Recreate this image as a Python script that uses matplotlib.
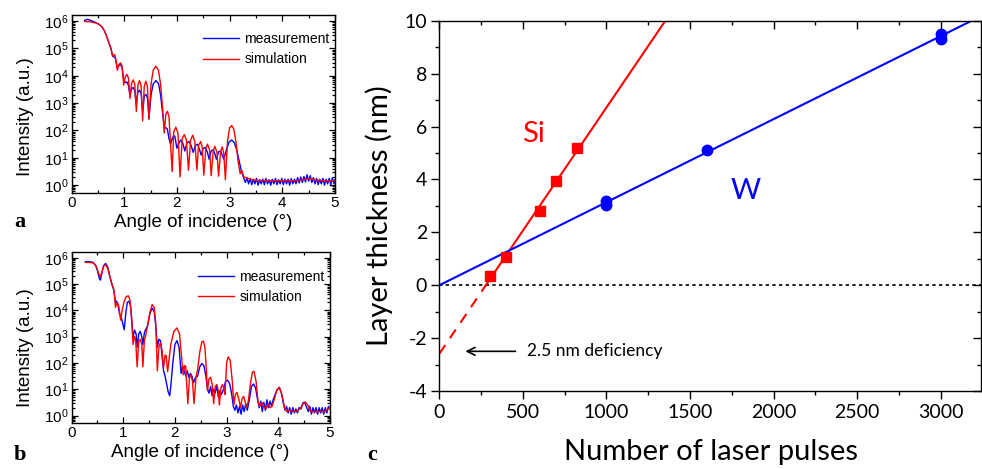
import numpy as np
import matplotlib
matplotlib.use("Agg")
import matplotlib.pyplot as plt
from matplotlib.ticker import LogLocator, MultipleLocator, NullFormatter, LogFormatterSciNotation

plt.rcParams['mathtext.default'] = 'regular'
plt.rcParams['axes.unicode_minus'] = False

# ---------------- data: panel a (angle in deg, log10 intensity) ----------------
a_sim = [(0.25, 5.98), (0.35, 5.97), (0.45, 5.93), (0.52, 5.88), (0.58, 5.78), (0.63, 5.62),
         (0.67, 5.42), (0.71, 5.2), (0.75, 4.98), (0.78, 4.72), (0.81, 4.78), (0.83, 4.72),
         (0.87, 4.2), (0.90, 4.4), (0.93, 4.47), (0.96, 4.35), (0.99, 3.66), (1.02, 3.95),
         (1.05, 4.05), (1.08, 3.92), (1.11, 3.17), (1.14, 3.72), (1.17, 3.85), (1.20, 3.7),
         (1.23, 2.7), (1.26, 3.65), (1.29, 3.82), (1.32, 3.65), (1.35, 2.35), (1.38, 3.6),
         (1.41, 3.8), (1.44, 3.62), (1.47, 2.4), (1.51, 3.7), (1.55, 4.2), (1.60, 4.35),
         (1.65, 4.2), (1.69, 3.7), (1.73, 2.8), (1.76, 1.9), (1.79, 2.6), (1.82, 2.7),
         (1.85, 2.5), (1.91, 0.5), (1.94, 1.95), (1.98, 2.12), (2.02, 1.9), (2.06, 0.3),
         (2.10, 1.7), (2.14, 1.85), (2.18, 1.65), (2.22, 0.55), (2.26, 1.65), (2.30, 1.83),
         (2.34, 1.6), (2.38, 0.55), (2.41, 1.45), (2.45, 1.6), (2.48, 1.4), (2.51, 0.37),
         (2.55, 1.35), (2.58, 1.5), (2.62, 1.3), (2.65, 0.35), (2.69, 1.25), (2.72, 1.42),
         (2.76, 1.2), (2.79, 0.33), (2.83, 1.25), (2.86, 1.4), (2.89, 1.15), (2.92, 0.2),
         (2.96, 1.6), (3.00, 2.1), (3.04, 2.18), (3.08, 2.05), (3.12, 1.6), (3.16, 0.9),
         (3.20, 0.42), (3.23, 0.55), (3.27, 0.3), (3.32, 0.28), (3.38, 0.22), (3.5, 0.18),
         (3.7, 0.17), (4.0, 0.16), (4.3, 0.17), (4.45, 0.22), (4.52, 0.25), (4.6, 0.2),
         (4.8, 0.16), (5.0, 0.16)]

a_meas = [(0.25, 6.02), (0.30, 6.06), (0.35, 6.03), (0.45, 5.95), (0.52, 5.88), (0.58, 5.78),
          (0.63, 5.62), (0.67, 5.42), (0.71, 5.2), (0.75, 4.98), (0.78, 4.72), (0.81, 4.68),
          (0.83, 4.65), (0.87, 4.3), (0.90, 4.38), (0.93, 4.4), (0.96, 4.3), (0.99, 3.85),
          (1.02, 3.75), (1.05, 3.77), (1.08, 3.65), (1.11, 3.3), (1.14, 3.52), (1.17, 3.57),
          (1.20, 3.45), (1.23, 2.95), (1.26, 3.4), (1.29, 3.47), (1.32, 3.35), (1.35, 2.7),
          (1.38, 3.25), (1.41, 3.32), (1.44, 3.2), (1.47, 2.45), (1.51, 3.3), (1.55, 3.7),
          (1.60, 3.82), (1.65, 3.72), (1.69, 3.3), (1.73, 2.6), (1.76, 2.1), (1.79, 2.1),
          (1.82, 2.05), (1.85, 1.7), (1.88, 1.5), (1.92, 1.75), (1.96, 1.8), (2.00, 1.35),
          (2.03, 1.5), (2.07, 1.65), (2.11, 1.55), (2.15, 1.25), (2.19, 1.55), (2.23, 1.6),
          (2.27, 1.45), (2.31, 1.2), (2.35, 1.45), (2.39, 1.5), (2.43, 1.3), (2.46, 1.1),
          (2.50, 1.35), (2.54, 1.38), (2.58, 1.2), (2.61, 0.95), (2.65, 1.25), (2.69, 1.3),
          (2.72, 1.15), (2.75, 0.95), (2.79, 1.22), (2.83, 1.25), (2.86, 1.1), (2.89, 0.95),
          (2.94, 1.3), (2.99, 1.58), (3.04, 1.65), (3.09, 1.55), (3.14, 1.25), (3.18, 0.9),
          (3.22, 0.55), (3.26, 0.3), (3.30, 0.1), (3.33, 0.28), (3.36, 0.05), (3.39, 0.25),
          (3.42, 0.02), (3.45, 0.22), (3.48, 0.05), (3.51, 0.25), (3.54, 0.0), (3.57, 0.2),
          (3.60, 0.05), (3.63, 0.22), (3.66, 0.02), (3.69, 0.25), (3.72, 0.05), (3.75, 0.2),
          (3.78, 0.0), (3.81, 0.22), (3.84, 0.05), (3.87, 0.25), (3.90, 0.02), (3.93, 0.2),
          (3.96, 0.05), (3.99, 0.25), (4.02, 0.02), (4.05, 0.22), (4.08, 0.05), (4.11, 0.22),
          (4.14, 0.0), (4.17, 0.25), (4.20, 0.05), (4.23, 0.22), (4.26, 0.05), (4.29, 0.28),
          (4.32, 0.08), (4.35, 0.3), (4.38, 0.1), (4.41, 0.32), (4.44, 0.12), (4.47, 0.38),
          (4.50, 0.15), (4.53, 0.35), (4.56, 0.1), (4.59, 0.28), (4.62, 0.05), (4.65, 0.25),
          (4.68, 0.02), (4.71, 0.22), (4.74, 0.05), (4.77, 0.25), (4.80, 0.0), (4.83, 0.22),
          (4.86, 0.05), (4.89, 0.25), (4.92, 0.02), (4.95, 0.28), (4.98, 0.05), (5.0, 0.2)]

# ---------------- data: panel b ----------------
b_sim = [(0.27, 5.82), (0.35, 5.82), (0.42, 5.8), (0.47, 5.7), (0.51, 5.5), (0.55, 5.27),
         (0.58, 5.4), (0.62, 5.68), (0.66, 5.73), (0.70, 5.6), (0.74, 5.3), (0.78, 5.0),
         (0.82, 4.8), (0.85, 4.12), (0.87, 4.25), (0.89, 4.3), (0.92, 4.1), (0.95, 3.63),
         (0.98, 4.0), (1.02, 4.35), (1.06, 4.52), (1.10, 4.55), (1.13, 4.4), (1.16, 3.8),
         (1.19, 2.7), (1.22, 3.0), (1.24, 2.9), (1.27, 1.85), (1.30, 2.8), (1.33, 2.9),
         (1.36, 2.7), (1.38, 1.85), (1.41, 2.85), (1.44, 3.1), (1.47, 3.4), (1.52, 3.95),
         (1.56, 4.22), (1.60, 4.1), (1.63, 3.5), (1.66, 1.7), (1.69, 2.6), (1.72, 2.77),
         (1.75, 2.5), (1.78, 1.8), (1.81, 2.3), (1.83, 2.28), (1.86, 1.67), (1.92, 2.7),
         (1.98, 3.2), (2.04, 3.33), (2.09, 3.1), (2.13, 2.2), (2.16, 1.55), (2.19, 1.9),
         (2.21, 1.85), (2.25, 0.45), (2.28, 1.4), (2.31, 1.55), (2.34, 1.3), (2.37, 0.45),
         (2.41, 1.5), (2.44, 1.75), (2.48, 2.4), (2.52, 2.8), (2.55, 2.83), (2.58, 2.6),
         (2.61, 1.7), (2.63, 0.95), (2.66, 1.4), (2.69, 1.45), (2.72, 1.2), (2.75, 0.45),
         (2.78, 1.1), (2.81, 1.18), (2.84, 0.95), (2.86, 0.4), (2.89, 1.05), (2.92, 1.18),
         (2.95, 1.0), (2.97, 0.8), (3.00, 2.0), (3.03, 2.23), (3.07, 2.1), (3.11, 1.3),
         (3.14, 0.4), (3.17, 0.8), (3.20, 0.88), (3.24, 0.6), (3.27, 0.3), (3.30, 0.65),
         (3.33, 0.73), (3.36, 0.5), (3.39, 0.3), (3.42, 0.55), (3.46, 1.2), (3.50, 1.65),
         (3.53, 1.68), (3.57, 1.3), (3.61, 0.5), (3.64, 0.35), (3.68, 0.5), (3.72, 0.35),
         (3.76, 0.25), (3.80, 0.42), (3.84, 0.3), (3.88, 0.35), (3.92, 0.6), (3.97, 0.95),
         (4.02, 1.08), (4.07, 0.8), (4.12, 0.3), (4.16, 0.15), (4.22, 0.2), (4.28, 0.15),
         (4.35, 0.17), (4.42, 0.25), (4.48, 0.45), (4.52, 0.52), (4.57, 0.4), (4.62, 0.15),
         (4.70, 0.14), (4.80, 0.15), (4.90, 0.14), (4.96, 0.25), (5.0, 0.3)]

b_meas = [(0.27, 5.85), (0.35, 5.85), (0.42, 5.82), (0.47, 5.7), (0.51, 5.45), (0.54, 5.2),
          (0.56, 5.15), (0.58, 5.35), (0.62, 5.7), (0.66, 5.78), (0.70, 5.65), (0.74, 5.3),
          (0.78, 5.0), (0.82, 4.75), (0.85, 4.3), (0.87, 4.35), (0.90, 4.2), (0.93, 3.85),
          (0.96, 3.75), (0.99, 3.5), (1.02, 3.26), (1.05, 3.9), (1.08, 4.3), (1.11, 4.35),
          (1.14, 4.2), (1.17, 3.5), (1.19, 2.95), (1.22, 3.25), (1.25, 3.1), (1.27, 2.6),
          (1.30, 3.1), (1.33, 3.2), (1.36, 3.0), (1.38, 2.7), (1.41, 3.15), (1.43, 3.25),
          (1.47, 3.4), (1.52, 3.9), (1.56, 4.08), (1.60, 3.95), (1.63, 3.4), (1.66, 2.6),
          (1.69, 2.9), (1.72, 2.85), (1.75, 2.3), (1.78, 1.7), (1.81, 1.5), (1.84, 1.2),
          (1.87, 0.9), (1.90, 0.75), (1.92, 1.1), (1.96, 2.0), (2.00, 2.7), (2.04, 2.85),
          (2.08, 2.6), (2.12, 1.6), (2.15, 1.9), (2.18, 1.7), (2.21, 1.5), (2.24, 1.7),
          (2.27, 1.45), (2.30, 1.6), (2.33, 1.5), (2.36, 1.25), (2.40, 1.45), (2.44, 1.5),
          (2.48, 1.85), (2.52, 1.98), (2.56, 1.9), (2.60, 1.5), (2.63, 1.0), (2.66, 0.85),
          (2.69, 1.1), (2.72, 0.75), (2.75, 1.0), (2.78, 0.85), (2.81, 1.15), (2.84, 0.7),
          (2.87, 0.95), (2.90, 0.8), (2.94, 1.0), (2.98, 1.3), (3.02, 1.35), (3.06, 1.2),
          (3.10, 0.8), (3.13, 0.35), (3.16, 0.2), (3.19, 0.4), (3.22, 0.1), (3.25, 0.35),
          (3.28, 0.05), (3.31, 0.4), (3.34, 0.15), (3.37, 0.45), (3.40, 0.2), (3.44, 0.6),
          (3.48, 1.1), (3.52, 1.2), (3.56, 1.05), (3.60, 0.6), (3.63, 0.3), (3.66, 0.55),
          (3.69, 0.15), (3.72, 0.5), (3.75, 0.2), (3.78, 0.6), (3.81, 0.3), (3.84, 0.55),
          (3.87, 0.35), (3.90, 0.6), (3.94, 0.8), (3.98, 1.0), (4.02, 1.05), (4.06, 0.85),
          (4.10, 0.45), (4.13, 0.2), (4.16, 0.35), (4.19, 0.1), (4.22, 0.3), (4.25, 0.05),
          (4.28, 0.3), (4.31, 0.1), (4.34, 0.25), (4.37, 0.1), (4.40, 0.3), (4.44, 0.25),
          (4.48, 0.5), (4.52, 0.45), (4.55, 0.3), (4.58, 0.15), (4.61, 0.35), (4.64, 0.05),
          (4.67, 0.3), (4.70, 0.1), (4.73, 0.3), (4.76, 0.05), (4.79, 0.3), (4.82, 0.1),
          (4.85, 0.3), (4.88, 0.05), (4.91, 0.3), (4.94, 0.1), (4.97, 0.35), (5.0, 0.25)]

# ---------------- data: panel c ----------------
si_pulses = [300, 400, 600, 700, 825]
si_thick = [0.35, 1.05, 2.8, 3.95, 5.2]
w_pulses = [1000, 1000, 1600, 3000, 3000]
w_thick = [3.05, 3.2, 5.1, 9.3, 9.5]
c_xticks = [0, 500, 1000, 1500, 2000, 2500, 3000]
c_yticks = [-4, -2, 0, 2, 4, 6, 8, 10]

BLUE = (0, 0, 1)
RED = (1, 0, 0)
SANS = 'Liberation Sans'
CAL = 'Lato'

fig = plt.figure(figsize=(9.82, 4.69), dpi=100)
W, H = 982.0, 469.0


def rect(l, t, r, b):
    return [l / W, 1 - b / H, (r - l) / W, (b - t) / H]


def xrr(ax_rect, meas, sim, ylab_xy, xlab_xy, leg_anchor):
    ax = fig.add_axes(ax_rect)
    m = np.array(meas)
    s = np.array(sim)
    ax.plot(m[:, 0], 10 ** m[:, 1], color=BLUE, lw=1.0, label='measurement')
    ax.plot(s[:, 0], 10 ** s[:, 1], color=RED, lw=1.0, label='simulation')
    ax.set_yscale('log')
    ax.set_xlim(0, 5)
    ax.set_ylim(0.52, 1.65e6)
    ax.yaxis.set_major_locator(LogLocator(base=10, numticks=10))
    ax.yaxis.set_minor_locator(LogLocator(base=10, subs=np.arange(2, 10), numticks=20))
    ax.yaxis.set_minor_formatter(NullFormatter())
    ax.yaxis.set_major_formatter(LogFormatterSciNotation())
    ax.xaxis.set_major_locator(MultipleLocator(1))
    ax.xaxis.set_minor_locator(MultipleLocator(0.5))
    ax.tick_params(which='both', direction='in', top=True, right=True, width=0.9,
                   labelsize=11, pad=2)
    ax.tick_params(which='major', length=4)
    ax.tick_params(which='minor', length=2.2)
    for lab in ax.get_xticklabels() + ax.get_yticklabels():
        lab.set_fontfamily(SANS)
    for sp in ax.spines.values():
        sp.set_linewidth(1.0)
    ax.set_ylabel('Intensity (a.u.)', fontsize=13.5, family=SANS)
    ax.yaxis.set_label_coords(*ylab_xy)
    ax.yaxis.label.set_va('center')
    ax.set_xlabel('Angle of incidence (°)', fontsize=13.5, family=SANS)
    ax.xaxis.set_label_coords(*xlab_xy)
    ax.xaxis.label.set_va('center')
    ax.legend(loc='upper right', bbox_to_anchor=leg_anchor, frameon=False,
              prop={'family': SANS, 'size': 10}, handlelength=2.6,
              handletextpad=0.35, labelspacing=0.45, borderaxespad=0)
    return ax


ax_a = xrr(rect(71.5, 15, 335, 193), a_meas, a_sim, (-0.175, 0.43), (0.5, -0.163), (1.0, 0.935))
ax_b = xrr(rect(71.5, 252, 330, 423), b_meas, b_sim, (-0.178, 0.44), (0.497, -0.175), (1.0, 0.93))

# ---------------- panel c ----------------
c_rect = rect(439.4, 20.7, 980.7, 391)
ax = fig.add_axes(c_rect)
xmax = 3240
ax.set_xlim(0, xmax)
ax.set_ylim(-4, 10)

# zero line
ax.axhline(0, color='black', lw=1.2, ls=(0, (2, 2)), zorder=1)

# Si fit
si_k, si_b = np.polyfit(si_pulses, si_thick, 1)
x_zero = -si_b / si_k
x_top = (10 - si_b) / si_k
ax.plot([0, x_zero], [si_b, 0], color=RED, lw=1.5, ls=(0, (5, 4)), zorder=2)
ax.plot([x_zero, x_top], [0, 10], color=RED, lw=1.5, zorder=2)
ax.plot(si_pulses, si_thick, 's', color=RED, ms=6.5, zorder=3)

# W fit through origin
w_x = np.array(w_pulses, float)
w_y = np.array(w_thick, float)
w_k = np.sum(w_x * w_y) / np.sum(w_x ** 2)
ax.plot([0, xmax], [0, w_k * xmax], color=BLUE, lw=1.5, zorder=2)
ax.plot(w_pulses, w_thick, 'o', color=BLUE, ms=7.5, zorder=3)

ax.set_xticks(c_xticks)
ax.set_yticks(c_yticks)
ax.xaxis.set_minor_locator(MultipleLocator(250))
ax.yaxis.set_minor_locator(MultipleLocator(1))
ax.tick_params(which='both', direction='out', width=1.0, labelsize=14, pad=3)
ax.tick_params(which='major', length=6)
ax.tick_params(which='minor', length=3.2)
for lab in ax.get_xticklabels() + ax.get_yticklabels():
    lab.set_fontfamily(CAL)
for sp in ax.spines.values():
    sp.set_linewidth(1.0)

ax.set_ylabel('Layer thickness (nm)', fontsize=21, family=CAL)
ax.yaxis.set_label_coords(-0.1116, 0.4726)
ax.yaxis.label.set_va('center')
ax.set_xlabel('Number of laser pulses', fontsize=21, family=CAL)
ax.xaxis.set_label_coords(0.5018, -0.1647)
ax.xaxis.label.set_va('center')

ax.text(560, 5.72, 'Si', color=RED, fontsize=21, family=CAL, ha='center', va='center')
ax.text(1835, 3.56, 'W', color=BLUE, fontsize=21, family=CAL, ha='center', va='center')
ax.annotate('', xy=(139, -2.5), xytext=(472, -2.5),
            arrowprops=dict(arrowstyle='->', color='black', lw=1.2,
                            mutation_scale=14))
ax.text(522, -2.5, '2.5 nm deficiency', fontsize=12.5, family=CAL, ha='left', va='center')

# mirrored top/right ticks pointing inward
ax2 = fig.add_axes(c_rect, frameon=False)
ax2.set_xlim(0, xmax)
ax2.set_ylim(-4, 10)
ax2.set_xticks(c_xticks)
ax2.set_yticks(c_yticks)
ax2.xaxis.set_minor_locator(MultipleLocator(250))
ax2.yaxis.set_minor_locator(MultipleLocator(1))
ax2.tick_params(which='both', direction='in', width=1.0, top=True, right=True,
                bottom=False, left=False, labeltop=False, labelright=False,
                labelbottom=False, labelleft=False)
ax2.tick_params(which='major', length=6)
ax2.tick_params(which='minor', length=3.2)
ax2.patch.set_visible(False)

# panel letters
fig.text(20 / W, 1 - 222 / H, 'a', fontsize=16, family='Liberation Serif', weight='bold',
         ha='center', va='center')
fig.text(20 / W, 1 - 455 / H, 'b', fontsize=16, family='Liberation Serif', weight='bold',
         ha='center', va='center')
fig.text(372 / W, 1 - 455 / H, 'c', fontsize=16, family='Liberation Serif', weight='bold',
         ha='center', va='center')

fig.savefig('out.png', dpi=100)
